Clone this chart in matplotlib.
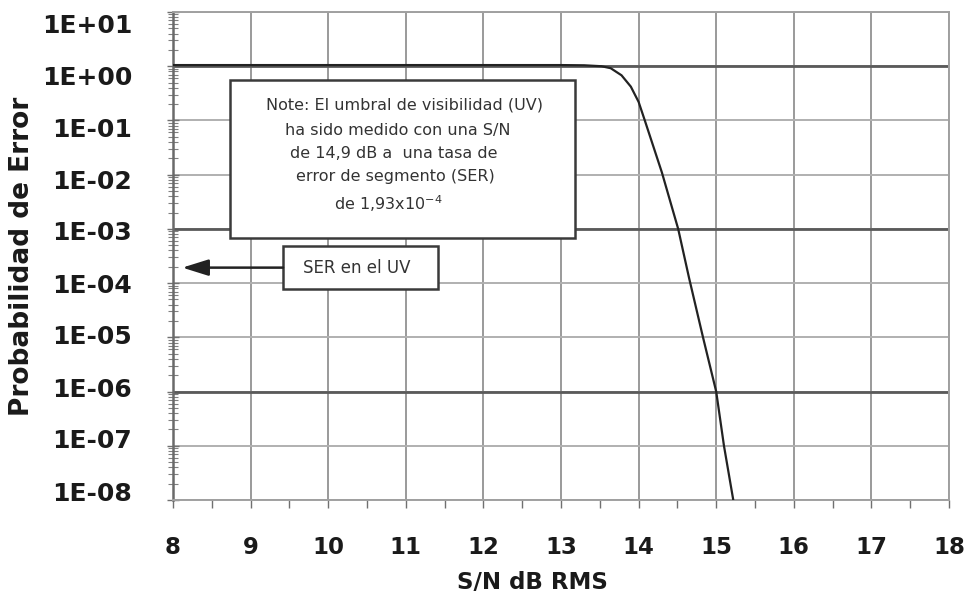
import numpy as np
import matplotlib
matplotlib.use("Agg")
import matplotlib.pyplot as plt
import matplotlib.transforms as mtransforms
from matplotlib.patches import Rectangle
from matplotlib.ticker import FixedLocator, FuncFormatter, LogLocator, NullFormatter

plt.rcParams['font.family'] = ['DejaVu Sans']

# Curva de probabilidad de error frente a S/N
snr_db = [8.0, 13.0, 13.3, 13.52, 13.64, 13.78, 13.9, 14.0, 14.08, 14.3, 14.51,
          14.65, 14.83, 15.0, 15.1, 15.22]
ser = [1.05, 1.05, 1.04, 1.0, 0.92, 0.68, 0.42, 0.22, 0.1, 0.011, 1e-3,
       1.25e-4, 1e-5, 1e-6, 1e-7, 1e-8]

ser_uv = 1.93e-4
heavy_lines = [1.0, 1e-3, 1e-6]
x_ticks = np.arange(8, 19, 1)
y_ticks = [10.0 ** e for e in range(-8, 2)]

note_lines = [
    "Note: El umbral de visibilidad (UV)",
    "ha sido medido con una S/N",
    "de 14,9 dB a  una tasa de",
    "error de segmento (SER)",
    "de 1,93x10$^{-4}$",
]
ser_label = "SER en el UV"

fig = plt.figure(figsize=(9.66, 5.94), dpi=100)
ax = fig.add_axes([173 / 966, 1 - 500 / 594, 776 / 966, 488 / 594])

ax.set_yscale('log')
ax.set_xlim(8, 18)
ax.set_ylim(1e-8, 10)

# rejilla
ax.set_xticks(x_ticks)
ax.set_xticks(np.arange(8.5, 18, 1), minor=True)
ax.yaxis.set_major_locator(FixedLocator(y_ticks))
ax.yaxis.set_minor_locator(LogLocator(base=10, subs=np.arange(2, 10), numticks=20))
ax.yaxis.set_minor_formatter(NullFormatter())
ax.yaxis.set_major_formatter(FuncFormatter(lambda v, p: f"{v:.0E}"))

ax.grid(True, axis='x', which='major', color='#9a9a9a', lw=1.4, zorder=1)
ax.grid(True, axis='y', which='major', color='#b0b0b0', lw=1.4, zorder=1)
for h in heavy_lines:
    ax.axhline(h, color='#5a5a5a', lw=2.0, zorder=2)

ax.plot(snr_db, ser, color='#222222', lw=1.6, zorder=4, clip_on=True)

for s in ['top', 'right', 'bottom']:
    ax.spines[s].set_color('#a0a0a0')
    ax.spines[s].set_linewidth(1.4)
ax.spines['left'].set_color('#6a6a6a')
ax.spines['left'].set_linewidth(1.8)

ax.tick_params(axis='x', which='both', direction='out', length=6, width=1.0,
               color='#707070', pad=20, labelsize=16.5, labelcolor='#1a1a1a')
ax.tick_params(axis='y', which='major', direction='inout', length=9, width=1.0,
               color='#707070', pad=25, labelsize=18, labelcolor='#1a1a1a')
ax.tick_params(axis='y', which='minor', direction='inout', length=7, width=0.8,
               color='#808080')
for lab in ax.get_xticklabels() + ax.get_yticklabels():
    lab.set_fontweight('bold')

# desplazamiento vertical de las etiquetas del eje y
for i, tick in enumerate(ax.yaxis.get_major_ticks()):
    off_px = -9 + 20 * i / 9
    tr = mtransforms.ScaledTranslation(0, -off_px / 100, fig.dpi_scale_trans)
    tick.label1.set_transform(tick.label1.get_transform() + tr)

ax.set_xlabel('S/N dB RMS', fontsize=16.5, fontweight='bold', color='#1a1a1a')
ax.xaxis.set_label_coords(0.463, -0.145)
ax.set_ylabel('Probabilidad de Error', fontsize=19, fontweight='bold', color='#1a1a1a')
ax.yaxis.set_label_coords(-0.178, 0.5)

# cuadro de nota
ax.add_patch(Rectangle((0.0735, 0.537), 0.4445, 0.324, transform=ax.transAxes,
                       facecolor='white', edgecolor='#3a3a3a', lw=1.8, zorder=5))
line_y = [0.809, 0.758, 0.711, 0.662, 0.607]
line_x = [0.298, 0.290, 0.284, 0.286, 0.278]
for t, lx, ly in zip(note_lines, line_x, line_y):
    ax.text(lx, ly, t, transform=ax.transAxes, ha='center', va='center',
            fontsize=11.5, color='#333333', zorder=6)

# cuadro "SER en el UV" con flecha
ax.add_patch(Rectangle((0.1418, 0.4324), 0.1997, 0.0881, transform=ax.transAxes,
                       facecolor='white', edgecolor='#3a3a3a', lw=1.8, zorder=5))
ax.text(0.237, 0.476, ser_label, transform=ax.transAxes, ha='center', va='center',
        fontsize=12, color='#333333', zorder=6)
y_frac = (np.log10(ser_uv) + 8) / 9
ax.annotate('', xy=(8.12, ser_uv), xycoords='data',
            xytext=(0.1418, y_frac), textcoords='axes fraction',
            arrowprops=dict(arrowstyle='-|>,head_length=0.8,head_width=0.25',
                            color='#222222', lw=1.8, mutation_scale=20,
                            shrinkA=0, shrinkB=0), zorder=6)

fig.savefig('out.png', dpi=100)
